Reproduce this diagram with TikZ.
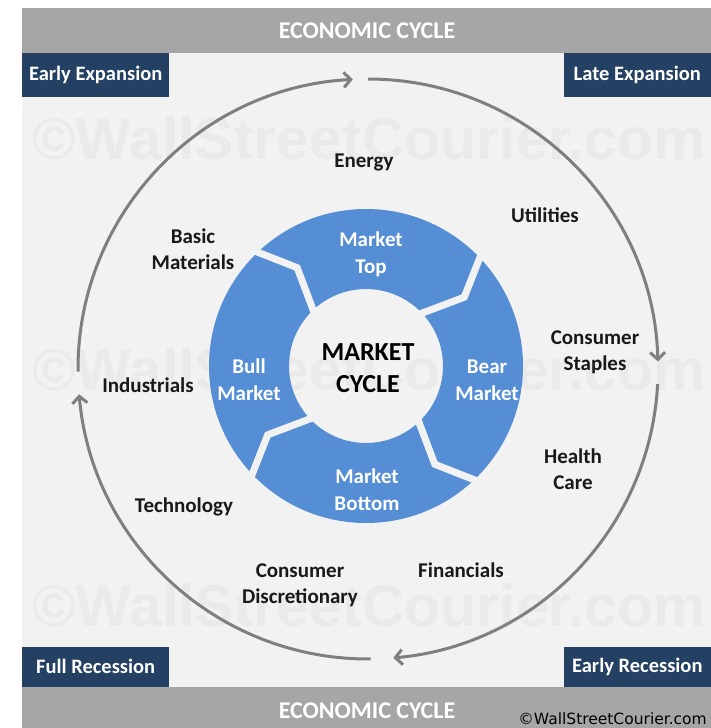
\documentclass[tikz,border=0pt]{standalone}
\usepackage{fontspec}
\setmainfont{Carlito}
\newfontfamily\wmfont{Liberation Sans}
\newfontfamily\copyfont{DejaVu Sans}
\usepackage{tikz}
\usetikzlibrary{arrows.meta,positioning,calc}
\definecolor{bggray}{HTML}{F2F2F2}
\definecolor{bargray}{HTML}{A6A6A6}
\definecolor{navy}{HTML}{244062}
\definecolor{ringblue}{HTML}{558ED5}
\definecolor{cycgray}{HTML}{7F7F7F}
\definecolor{wmgray}{HTML}{EAEAEA}

\begin{document}
\begin{tikzpicture}[x=1pt, y=1pt,
    sector/.style={font=\fontsize{21}{26}\selectfont\bfseries, text=black!90, align=center, inner sep=0pt},
    seglbl/.style={font=\fontsize{21}{27}\selectfont\bfseries, text=white, align=center, inner sep=0pt},
    corner/.style={fill=navy, text=white, minimum width=147pt, inner sep=0pt, anchor=north west,
                font=\fontsize{20.5}{24}\selectfont\bfseries},
    barlbl/.style={text=white, font=\fontsize{24}{28}\selectfont\bfseries, inner sep=0pt},
    wmark/.style={text=wmgray, font=\wmfont\bfseries\fontsize{59}{62}\selectfont, anchor=base west, inner sep=0pt},
    cyc/.style={draw=cycgray, line width=3pt, -{Straight Barb[length=7pt,width=15pt]}},
    gap/.style={draw=bggray, line width=7pt, line join=miter}]
    \useasboundingbox (0,0) rectangle (711,-728);
    \fill[white] (0,0) rectangle (711,-728);
    \fill[bggray] (22,-53) rectangle (711,-687);
    \fill[bargray] (22,-8) rectangle (711,-53);
    \fill[bargray] (22,-687) rectangle (711,-728);
    \node[wmark] (wm1) at (32,-159) {©WallStreetCourier.com};
    \node[wmark] (wm2) at (32,-390) {©WallStreetCourier.com};
    \node[wmark] (wm3) at (32,-626) {©WallStreetCourier.com};
    \node[barlbl] (econtop) at (367,-31) {ECONOMIC CYCLE};
    \node[barlbl] (econbot) at (367,-711) {ECONOMIC CYCLE};
    \node[anchor=east, inner sep=0pt, font=\copyfont\fontsize{15.5}{18}\selectfont] (copy) at (707,-719)
      {©WallStreetCourier.com};
    \node[corner, minimum height=44pt] (ee) at (22,-53) {Early Expansion};
    \node[corner, minimum height=44pt, anchor=north east] (le) at (711,-53) {Late Expansion};
    \node[corner, minimum height=40pt, anchor=south west] (fr) at (22,-687) {Full Recession};
    \node[corner, minimum height=40pt, anchor=south east] (er) at (711,-687) {Early Recession};
    \coordinate (O) at (368,-369);
    \draw[cyc] ([shift={(180.5:290)}]O) arc[start angle=180.5, end angle=93, radius=290];
    \draw[cyc] ([shift={(90:290)}]O) arc[start angle=90, end angle=1.5, radius=290];
    \draw[cyc] ([shift={(-3:290)}]O) arc[start angle=-3, end angle=-85, radius=290];
    \draw[cyc] ([shift={(-89.5:290)}]O) arc[start angle=-89.5, end angle=-175, radius=290];
    \coordinate (C) at (366,-366);
    \fill[ringblue, even odd rule] (C) circle[radius=157] (C) circle[radius=77];
    \foreach \a in {135,45,-45,-135}
      \draw[gap] ([shift={(\a:166)}]C) -- ([shift={(\a-10:120)}]C) -- ([shift={(\a:72)}]C);
    \node[seglbl] (mtop) at (371,-254) {Market\\Top};
    \node[seglbl] (bear) at (487,-380) {Bear\\Market};
    \node[seglbl] (mbot) at (367,-490) {Market\\Bottom};
    \node[seglbl] (bull) at (249,-380) {Bull\\Market};
    \node[align=center, inner sep=0pt, font=\fontsize{26}{32}\selectfont\bfseries] (mc) at (368,-368)
      {MARKET\\CYCLE};
    \node[sector] (energy) at (364,-162) {Energy};
    \node[sector] (util) at (545,-215) {Utilities};
    \node[sector] (staples) at (595,-352) {Consumer\\Staples};
    \node[sector] (health) at (573,-469) {Health\\Care};
    \node[sector] (fin) at (461,-570) {Financials};
    \node[sector] (discr) at (300,-585) {Consumer\\Discretionary};
    \node[sector] (tech) at (184,-507) {Technology};
    \node[sector] (indus) at (148,-385) {Industrials};
    \node[sector] (basic) at (193,-249) {Basic\\Materials};
  \end{tikzpicture}
\end{document}
